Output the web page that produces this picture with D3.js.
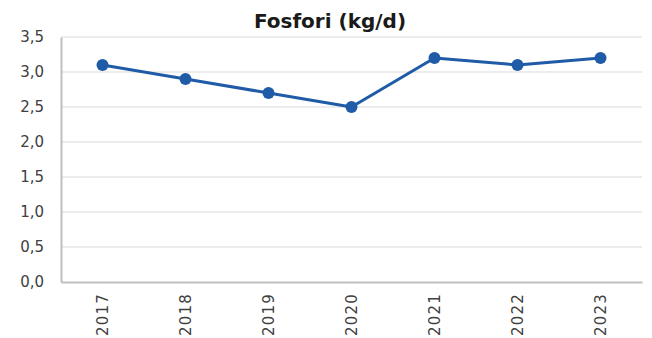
<!DOCTYPE html>
<html>
<head>
<meta charset="utf-8">
<script src="https://cdn.jsdelivr.net/npm/d3@7/dist/d3.min.js"></script>
<style>
  html, body { margin: 0; padding: 0; background: #fff; }
  svg { display: block; }
</style>
</head>
<body>
<svg id="chart" width="652" height="338"></svg>
<script>
// Phosphorus load per year (kg/d)
const years = ["2017", "2018", "2019", "2020", "2021", "2022", "2023"];
const values = [3.1, 2.9, 2.7, 2.5, 3.2, 3.1, 3.2];
const yTicks = [0, 0.5, 1, 1.5, 2, 2.5, 3, 3.5];
const title = "Fosfori (kg/d)";

const svg = d3.select("#chart");
const margin = { left: 61, right: 10, top: 37, bottom: 56 };
const W = 652, H = 338;

const x = d3.scaleBand().domain(years).range([margin.left, 642]);
const y = d3.scaleLinear().domain([0, 3.5]).range([H - margin.bottom, margin.top]);

const font = "'DejaVu Sans', Verdana, sans-serif";
const fmt = v => d3.format(".1f")(v).replace(".", ",");

// gridlines
svg.append("g")
  .selectAll("line")
  .data(yTicks.filter(t => t > 0))
  .join("line")
  .attr("x1", margin.left).attr("x2", 642)
  .attr("y1", d => y(d)).attr("y2", d => y(d))
  .attr("stroke", "#e6e6e6").attr("stroke-width", 1.5);

// y axis
const yAxis = svg.append("g")
  .attr("transform", `translate(${margin.left},0)`)
  .call(d3.axisLeft(y).tickValues(yTicks).tickFormat(fmt).tickSize(0).tickPadding(17));
yAxis.select(".domain").attr("stroke", "#bfbfbf").attr("stroke-width", 2);
yAxis.selectAll("text")
  .attr("fill", "#404040")
  .style("font-family", font)
  .style("font-size", "15px");

// x axis
const xAxis = svg.append("g")
  .attr("transform", `translate(0,${y(0)})`)
  .call(d3.axisBottom(x).tickSize(0));
xAxis.select(".domain").attr("stroke", "#bfbfbf").attr("stroke-width", 2);
xAxis.selectAll("text")
  .attr("fill", "#404040")
  .style("font-family", font)
  .style("font-size", "15px")
  .style("letter-spacing", "1.2px")
  .attr("text-anchor", "end")
  .attr("dy", "0.35em")
  .attr("transform", "translate(0,11) rotate(-90)")
  .attr("y", 0)
  .attr("x", 0);

// series line
const line = d3.line()
  .x((d, i) => x(years[i]) + x.bandwidth() / 2)
  .y(d => y(d));

svg.append("path")
  .datum(values)
  .attr("d", line)
  .attr("fill", "none")
  .attr("stroke", "#1f5ba6")
  .attr("stroke-width", 3)
  .attr("stroke-linejoin", "round");

svg.append("g")
  .selectAll("circle")
  .data(values)
  .join("circle")
  .attr("cx", (d, i) => x(years[i]) + x.bandwidth() / 2)
  .attr("cy", d => y(d))
  .attr("r", 6)
  .attr("fill", "#1f5ba6");

// title
svg.append("text")
  .attr("x", 330)
  .attr("y", 28)
  .attr("text-anchor", "middle")
  .attr("fill", "#1a1a1a")
  .style("font-family", font)
  .style("font-weight", "bold")
  .style("font-size", "20px")
  .text(title);
</script>
</body>
</html>
